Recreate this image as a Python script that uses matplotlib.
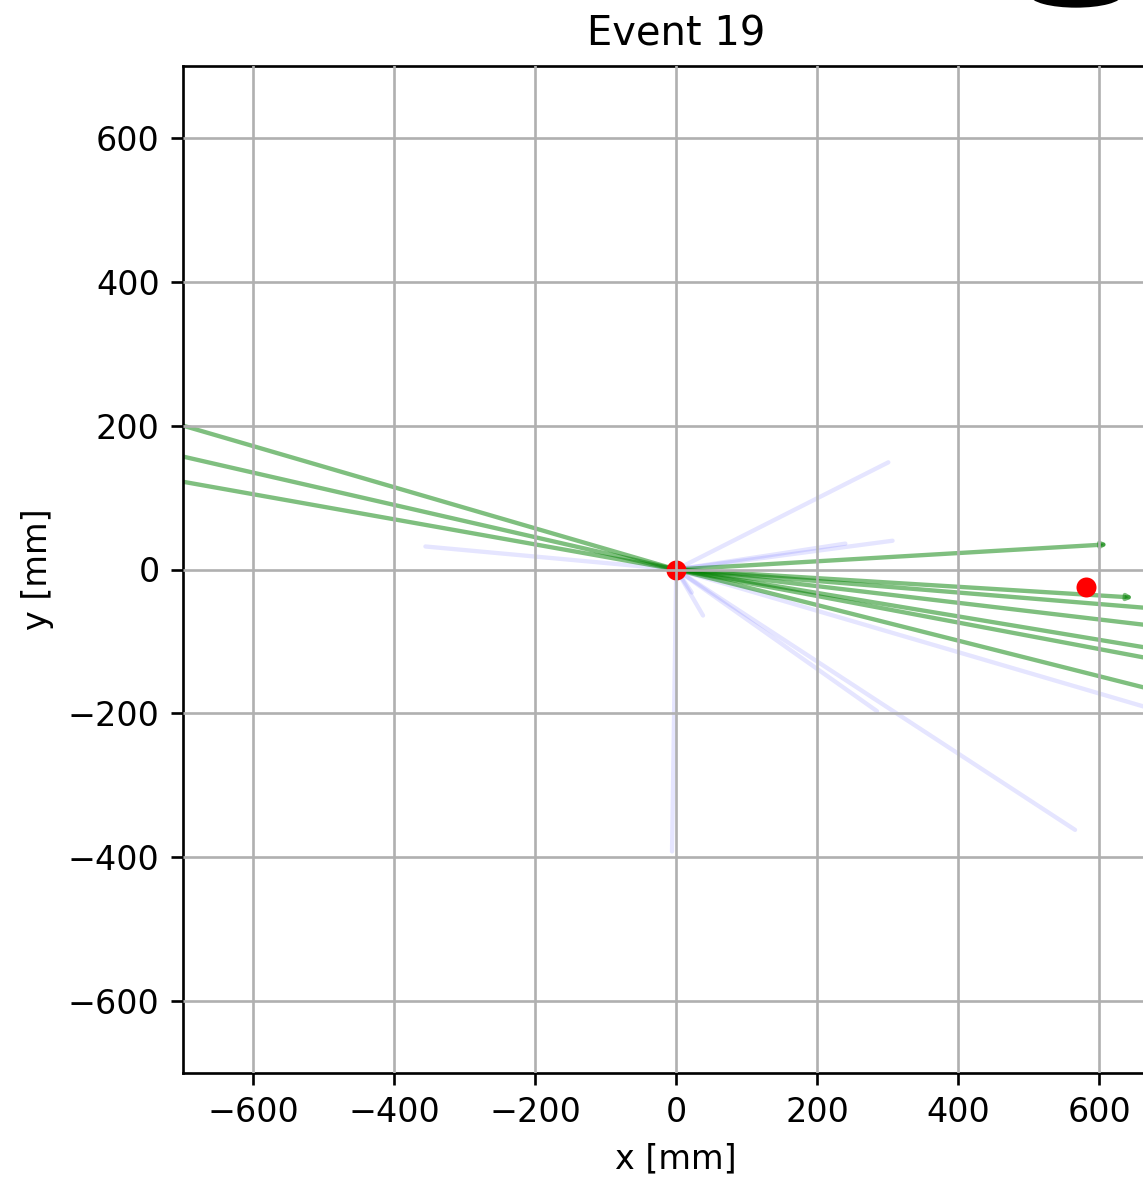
import matplotlib
matplotlib.use("Agg")
import matplotlib.pyplot as plt
from matplotlib.patches import Ellipse

# Track end points (all tracks start at the primary vertex)
vertex = (0.0, 0.0)
green_end_x = [-700, -700, -700, 613, 649, 700, 700, 700, 700, 700]
green_end_y = [200, 157, 122, 35, -39, -56, -81, -114, -129, -173]
green_arrow_tip = [False, False, False, True, True, False, False, False, False, False]

blue_end_x = [-356, 301, 307, 240, 38, 22, -6, 566, 285, 700]
blue_end_y = [32, 149, 40, 36, -64, -32, -392, -362, -197, -201]

# Reconstructed vertices (red points)
vtx_x = [0, 582]
vtx_y = [0, -24]

ticks = [-600, -400, -200, 0, 200, 400, 600]

W, H, DPI = 1143, 1180, 240
fig = plt.figure(figsize=(W / DPI, H / DPI), dpi=DPI)
ax = fig.add_axes([183 / W, 1 - 1073 / H, (1169.5 - 183) / W, (1073 - 66) / H])

for x1, y1 in zip(blue_end_x, blue_end_y):
    ax.plot([vertex[0], x1], [vertex[1], y1], color="blue", alpha=0.1, lw=1.3,
            solid_capstyle="round", zorder=1)

for x1, y1, tip in zip(green_end_x, green_end_y, green_arrow_tip):
    if tip:
        ax.annotate("", xy=(x1, y1), xytext=vertex,
                    arrowprops=dict(arrowstyle="-|>", color="green", alpha=0.5,
                                    lw=1.3, mutation_scale=3, shrinkA=0, shrinkB=0),
                    zorder=1.2)
    else:
        ax.plot([vertex[0], x1], [vertex[1], y1], color="green", alpha=0.5, lw=1.3,
                zorder=1.2)

ax.scatter(vtx_x, vtx_y, color="red", s=36, zorder=1.5, linewidths=0)

ax.set_xlim(-700, 700)
ax.set_ylim(-700, 700)
ax.set_xticks(ticks)
ax.set_yticks(ticks)
ax.set_axisbelow(False)
ax.grid(True, color="#b0b0b0", lw=0.8, zorder=2.5)
ax.set_xlabel("x [mm]")
ax.set_ylabel("y [mm]")
ax.set_title("Event 19")

# partially visible black shape at the top-right corner of the image
fig.patches.append(Ellipse((1076 / W, 1 - (-6) / H), 90 / W, 24 / H,
                           transform=fig.transFigure, color="black", zorder=10))

fig.savefig("out.png", dpi=DPI)
